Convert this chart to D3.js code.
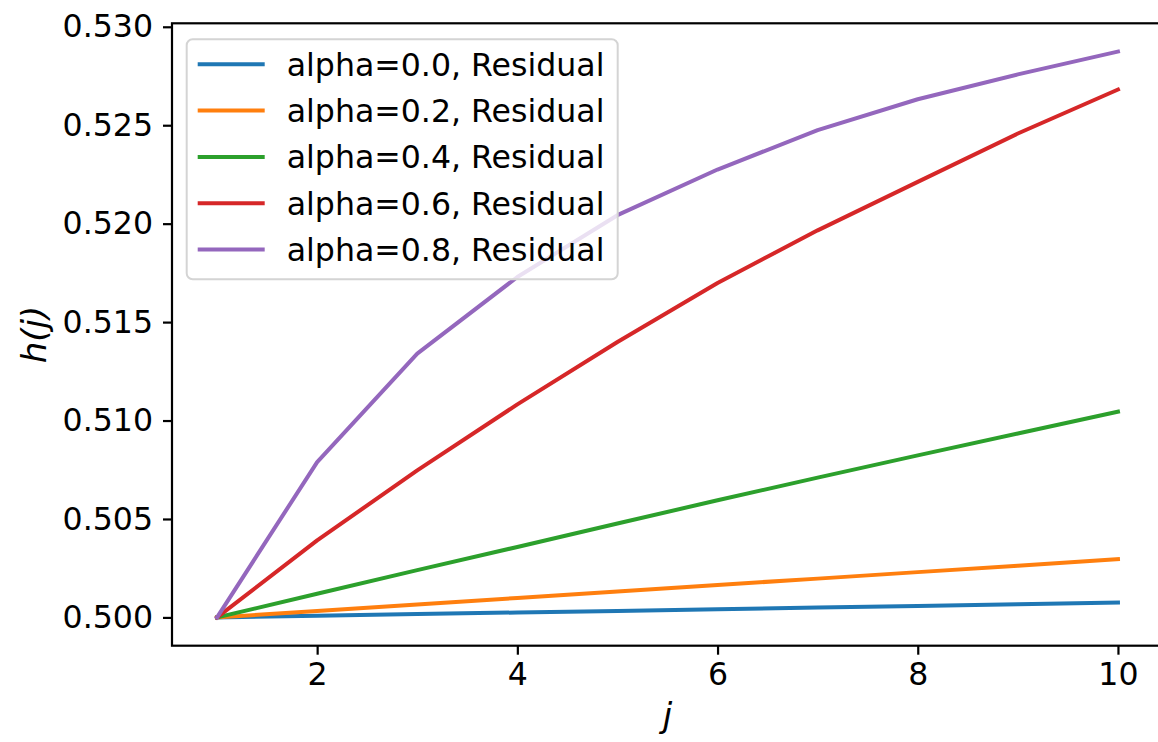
<!DOCTYPE html>
<html>
<head>
<meta charset="utf-8">
<script src="https://cdn.jsdelivr.net/npm/d3@7"></script>
<style>
  body { margin: 0; background: #fff; }
  svg { display: block; font-family: "DejaVu Sans", sans-serif; }
</style>
</head>
<body>
<div id="chart"></div>
<script>
const WIDTH = 1158;
const HEIGHT = 742;
const margin = {top: 23.3, right: -5, bottom: 96.3, left: 172};

const innerW = WIDTH - margin.left - margin.right;
const innerH = HEIGHT - margin.top - margin.bottom;

// data
const jValues = [1, 2, 3, 4, 5, 6, 7, 8, 9, 10];
const seriesNames = ['alpha=0.0, Residual', 'alpha=0.2, Residual', 'alpha=0.4, Residual',
                     'alpha=0.6, Residual', 'alpha=0.8, Residual'];
const alpha00 = [0.5, 0.50008, 0.50017, 0.50025, 0.50033, 0.50042, 0.50050, 0.50058, 0.50067, 0.50075];
const alpha02 = [0.5, 0.50033, 0.50066, 0.50099, 0.50132, 0.50165, 0.50197, 0.50230, 0.50263, 0.50296];
const alpha04 = [0.5, 0.50120, 0.50240, 0.50358, 0.50477, 0.50595, 0.50710, 0.50823, 0.50934, 0.51045];
const alpha06 = [0.5, 0.50391, 0.50747, 0.51082, 0.51399, 0.51699, 0.51966, 0.52212, 0.52458, 0.52681];
const alpha08 = [0.5, 0.50789, 0.51340, 0.51729, 0.52043, 0.52275, 0.52475, 0.52632, 0.52758, 0.52874];
const colors = ['#1f77b4', '#ff7f0e', '#2ca02c', '#d62728', '#9467bd'];
const xTicks = [2, 4, 6, 8, 10];
const yTicks = [0.500, 0.505, 0.510, 0.515, 0.520, 0.525, 0.530];

const allSeries = [alpha00, alpha02, alpha04, alpha06, alpha08];

const FONT = '31.6px';

const svg = d3.select('#chart')
    .append('svg')
        .attr('width', WIDTH)
        .attr('height', HEIGHT)

const g = svg.append('g')
        .attr('transform', `translate(${margin.left},${margin.top})`)

// matplotlib style 5% margins
const x = d3.scaleLinear()
            .domain([0.55, 10.45])
            .range([0, innerW]);

const yMin = 0.5, yMax = d3.max(alpha08);
const pad = (yMax - yMin) * 0.05;
const y = d3.scaleLinear()
            .domain([yMin - pad, yMax + pad])
            .range([innerH, 0]);

const xAxis = d3.axisBottom(x).tickValues(xTicks).tickFormat(d3.format('d'))
        .tickSize(9).tickPadding(8);
const yAxis = d3.axisLeft(y).tickValues(yTicks).tickFormat(d3.format('.3f'))
        .tickSize(9).tickPadding(10);

const gx = g.append('g')
        .attr('transform', `translate(0,${innerH})`)
        .call(xAxis);
const gy = g.append('g').call(yAxis);

[gx, gy].forEach(a => {
    a.select('.domain').remove();
    a.selectAll('.tick line').attr('stroke', '#000').attr('stroke-width', 2.2);
    a.selectAll('.tick text')
        .attr('fill', '#000')
        .style('font-family', '"DejaVu Sans", sans-serif')
        .style('font-size', FONT);
});

// lines
const line = d3.line()
        .x((d, i) => x(jValues[i]))
        .y(d => y(d));

g.selectAll('.series')
    .data(allSeries)
    .enter()
    .append('path')
        .attr('class', 'series')
        .attr('d', line)
        .attr('fill', 'none')
        .attr('stroke', (d, i) => colors[i])
        .attr('stroke-width', 4)
        .attr('stroke-linejoin', 'round')
        .attr('stroke-linecap', 'square');

// spines
g.append('rect')
    .attr('x', 0).attr('y', 0)
    .attr('width', innerW).attr('height', innerH)
    .attr('fill', 'none')
    .attr('stroke', '#000')
    .attr('stroke-width', 2.2);

// axis labels
svg.append('text')
    .attr('x', margin.left + innerW / 2)
    .attr('y', 727)
    .attr('text-anchor', 'middle')
    .style('font-size', '34px')
    .style('font-style', 'italic')
    .text('j');

svg.append('text')
    .attr('transform', `translate(46,${margin.top + innerH / 2}) rotate(-90)`)
    .attr('text-anchor', 'middle')
    .style('font-size', '34px')
    .style('font-style', 'italic')
    .text('h(j)');

// legend
const legend = g.append('g')
    .attr('transform', `translate(${186.7 - margin.left},${39.3 - margin.top})`);

legend.append('rect')
    .attr('width', 431)
    .attr('height', 240)
    .attr('rx', 6)
    .attr('fill', 'rgba(255,255,255,0.8)')
    .attr('stroke', '#d4d4d4')
    .attr('stroke-width', 2);

const rowY = i => 25 + i * 46.3;

legend.selectAll('.lg-line')
    .data(seriesNames)
    .enter()
    .append('line')
        .attr('x1', 11).attr('x2', 78)
        .attr('y1', (d, i) => rowY(i)).attr('y2', (d, i) => rowY(i))
        .attr('stroke', (d, i) => colors[i])
        .attr('stroke-width', 4);

legend.selectAll('.lg-text')
    .data(seriesNames)
    .enter()
    .append('text')
        .attr('x', 100)
        .attr('y', (d, i) => rowY(i))
        .attr('dy', '0.36em')
        .style('font-size', FONT)
        .text(d => d);
</script>
</body>
</html>
